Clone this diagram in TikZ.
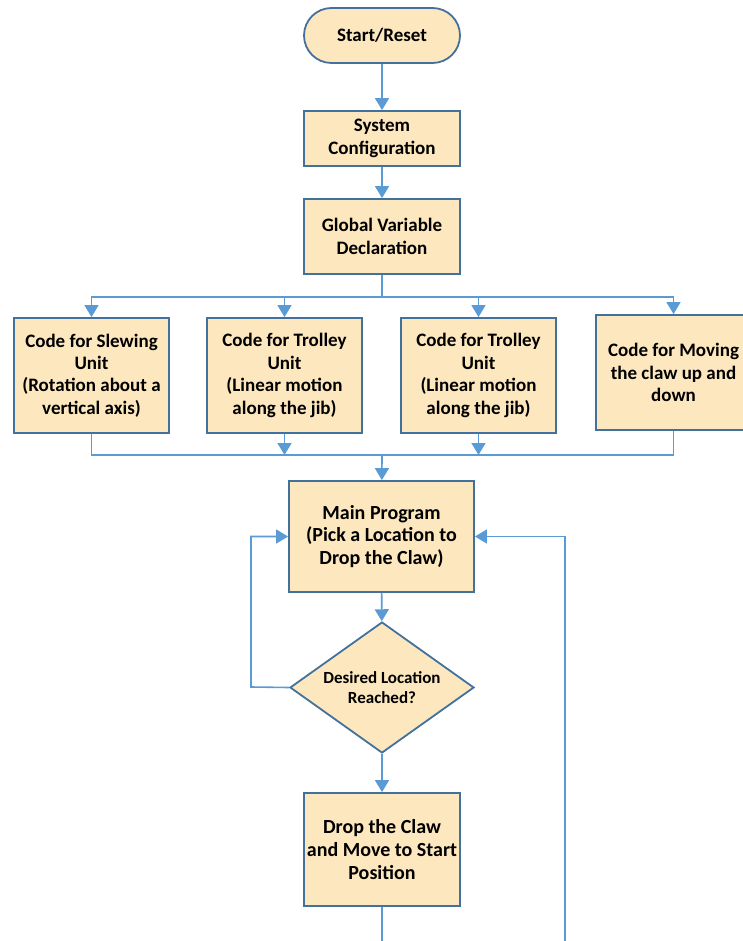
\documentclass[tikz,border=0pt]{standalone}
\usepackage{fontspec}
\setmainfont{Carlito}
\usetikzlibrary{shapes.geometric}
\usetikzlibrary{arrows.meta}
\definecolor{boxfill}{RGB}{252,231,190}
\definecolor{boxline}{RGB}{65,113,156}
\definecolor{flowline}{RGB}{91,155,213}

\begin{document}
\begin{tikzpicture}[x=0.5pt, y=-0.5pt,
    box/.style={shape=rectangle, draw=boxline, fill=boxfill, line width=0.9pt, inner sep=0pt, align=center, font=\bfseries\fontsize{9.5}{11.2}\selectfont},
    terminal/.style={box, rounded corners=13.75pt, minimum width=78pt, minimum height=27.5pt},
    codebox/.style={box, minimum width=77.5pt, minimum height=57.5pt},
    decision/.style={box, shape=diamond, aspect=1.4, minimum width=92pt, minimum height=65.5pt, font=\bfseries\fontsize{8.5}{10}\selectfont},
    conn/.style={draw=flowline, line width=0.8pt},
    connarrow/.style={conn, -{Triangle[width=7pt,length=6pt]}}]
      \useasboundingbox (0,0) rectangle (743,941);
      \node (start) [terminal] at (382,35.5) {Start/Reset};
      \node (sysconf) [box, minimum width=78pt, minimum height=27.5pt] at (382,138.5) {System\\Configuration};
      \node (globvar) [box, minimum width=78pt, minimum height=37.5pt] at (382,236.5) {Global Variable\\Declaration};
      \node (slew) [codebox] at (91.5,375.5) {Code for Slewing\\Unit\\(Rotation about a\\vertical axis)};
      \node (trolleya) [codebox] at (284.5,375.5) {Code for Trolley\\Unit\\(Linear motion\\along the jib)};
      \node (trolleyb) [codebox] at (478.5,375.5) {Code for Trolley\\Unit\\(Linear motion\\along the jib)};
      \node (claw) [codebox] at (673.5,372.5) {Code for Moving\\the claw up and\\down};
      \node (mainprog) [box, minimum width=92.5pt, minimum height=55.5pt, font=\bfseries\fontsize{10}{11.4}\selectfont] at (381.5,536.5) {Main Program\\(Pick a Location to\\Drop the Claw)};
      \node (reached) [decision] at (382,687.5) {Desired Location\\Reached?};
      \node (drop) [box, minimum width=78pt, minimum height=56.5pt, font=\bfseries\fontsize{10}{11.4}\selectfont] at (382,849.5) {Drop the Claw\\and Move to Start\\Position};
      \coordinate (topbus) at (382,297);
      \coordinate (lowbus) at (382,455);
      \coordinate (loopleft) at (251,687);
      \coordinate (dropend) at (382,941);
      \coordinate (returnend) at (565,941);
      \draw [connarrow] (start) -- (sysconf);
      \draw [connarrow] (sysconf) -- (globvar);
      \draw [conn] (globvar) -- (topbus);
      \draw [connarrow] (topbus) -| (slew);
      \draw [connarrow] (topbus) -| (trolleya);
      \draw [connarrow] (topbus) -| (trolleyb);
      \draw [connarrow] (topbus) -| (claw);
      \draw [conn] (slew) |- (lowbus) -| (claw);
      \draw [connarrow] (trolleya) -- (trolleya |- lowbus);
      \draw [connarrow] (trolleyb) -- (trolleyb |- lowbus);
      \draw [connarrow] (lowbus) -- (mainprog);
      \draw [connarrow] (mainprog) -- (reached);
      \draw [connarrow] (reached.west) -- (loopleft) |- (mainprog.west);
      \draw [connarrow] (reached) -- (drop);
      \draw [conn] (drop) -- (dropend);
      \draw [connarrow] (returnend) |- (mainprog.east);
\end{tikzpicture}
\end{document}
